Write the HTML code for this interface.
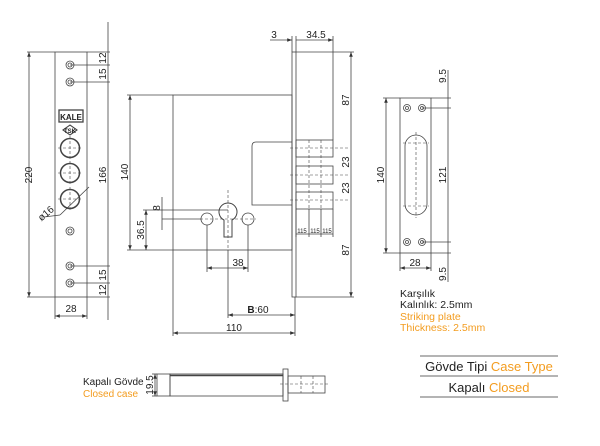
<!DOCTYPE html>
<html><head><meta charset="utf-8"><style>
html,body{margin:0;padding:0;background:#fff}
svg{display:block}
text{font-family:"Liberation Sans",sans-serif;fill:#222}
.o{fill:#f39c1f}
</style></head><body>
<svg width="600" height="446" viewBox="0 0 600 446" xmlns="http://www.w3.org/2000/svg">
<defs>
<marker id="a" viewBox="0 0 8 6" refX="8" refY="3" markerWidth="6" markerHeight="5" orient="auto-start-reverse"><path d="M0,0 L8,3 L0,6z" fill="#333"/></marker>
</defs>
<g stroke="#444" stroke-width="0.8" fill="none">
<rect x="55" y="52" width="32" height="245"/>
<line x1="29" y1="52" x2="29" y2="297" marker-start="url(#a)" marker-end="url(#a)"/>
<line x1="27" y1="52" x2="55" y2="52"/><line x1="27" y1="297" x2="55" y2="297"/>
<line x1="108" y1="22" x2="108" y2="320"/>
<line x1="87" y1="52" x2="110" y2="52"/><line x1="87" y1="297" x2="110" y2="297"/>
<line x1="70" y1="65" x2="110" y2="65"/><line x1="70" y1="82" x2="110" y2="82"/>
<line x1="70" y1="266" x2="110" y2="266"/><line x1="70" y1="283" x2="110" y2="283"/>
<circle cx="70" cy="65" r="4"/><circle cx="70" cy="65" r="2"/>
<circle cx="70" cy="82" r="4"/><circle cx="70" cy="82" r="2"/>
<circle cx="70" cy="231" r="4"/><circle cx="70" cy="231" r="2"/>
<circle cx="70" cy="266" r="4"/><circle cx="70" cy="266" r="2"/>
<circle cx="70" cy="283" r="4"/><circle cx="70" cy="283" r="2"/>
<circle cx="70" cy="148" r="9.5" stroke-width="1.5"/>
<circle cx="70" cy="173" r="9.5" stroke-width="1.5"/>
<circle cx="70" cy="199" r="9.5" stroke-width="1.5"/>
<g stroke-dasharray="3,2" stroke-width="0.6">
<line x1="58" y1="148" x2="82" y2="148"/><line x1="70" y1="136" x2="70" y2="160"/>
<line x1="58" y1="173" x2="82" y2="173"/><line x1="70" y1="161" x2="70" y2="185"/>
<line x1="58" y1="199" x2="82" y2="199"/><line x1="70" y1="187" x2="70" y2="211"/>
</g>
<line x1="60" y1="215" x2="89" y2="187"/>
<line x1="44" y1="217" x2="60" y2="215"/>
<rect x="59" y="110" width="24" height="12" stroke-width="1.3"/>
<path d="M63,130 L70,125 L77,130 L70,135z" stroke-width="1.1"/>
<line x1="55" y1="316" x2="87" y2="316" marker-start="url(#a)" marker-end="url(#a)"/>
<line x1="55" y1="297" x2="55" y2="319"/><line x1="87" y1="297" x2="87" y2="319"/>

<rect x="173" y="95" width="119" height="155"/>
<rect x="292" y="52" width="4" height="245"/>
<line x1="296" y1="52" x2="333" y2="52"/><line x1="296" y1="297" x2="333" y2="297"/>
<path d="M292,142 L256,142 Q252,142 252,146 L252,205 L292,205"/>
<rect x="296" y="140" width="37" height="17"/>
<rect x="296" y="166" width="37" height="18"/>
<rect x="296" y="192" width="37" height="17"/>
<g stroke-dasharray="3,2" stroke-width="0.6">
<line x1="309" y1="140" x2="309" y2="209"/><line x1="321" y1="140" x2="321" y2="209"/>
<line x1="290" y1="148" x2="350" y2="148"/><line x1="290" y1="175" x2="350" y2="175"/><line x1="290" y1="200" x2="350" y2="200"/>
<line x1="228" y1="190" x2="228" y2="250"/>
<line x1="200" y1="219" x2="256" y2="219"/>
</g>
<line x1="296" y1="209" x2="296" y2="237"/><line x1="309" y1="209" x2="309" y2="237"/><line x1="321" y1="209" x2="321" y2="237"/><line x1="333" y1="209" x2="333" y2="237"/>
<line x1="296" y1="234" x2="333" y2="234"/>
<path d="M224,237 L224,220 A9,9 0 1 1 232,220 L232,237 Z" stroke-width="1"/>
<circle cx="207" cy="219" r="6"/><circle cx="248" cy="219" r="6"/>
<line x1="296" y1="40" x2="333" y2="40" marker-end="url(#a)"/>
<line x1="270" y1="40" x2="292" y2="40" marker-end="url(#a)"/>
<line x1="333" y1="36" x2="333" y2="140"/>
<line x1="292" y1="36" x2="292" y2="52"/><line x1="296" y1="36" x2="296" y2="52"/>
<line x1="351" y1="52" x2="351" y2="297" marker-start="url(#a)" marker-end="url(#a)"/>
<line x1="333" y1="52" x2="354" y2="52"/>
<line x1="333" y1="297" x2="354" y2="297"/>
<line x1="130" y1="95" x2="130" y2="250" marker-start="url(#a)" marker-end="url(#a)"/>
<line x1="127" y1="95" x2="173" y2="95"/><line x1="127" y1="250" x2="173" y2="250"/>
<line x1="146" y1="210" x2="146" y2="250" marker-start="url(#a)" marker-end="url(#a)"/>
<line x1="143" y1="210" x2="228" y2="210"/>
<line x1="162" y1="197" x2="162" y2="230"/>
<line x1="162" y1="219" x2="201" y2="219"/>
<line x1="207" y1="225" x2="207" y2="272"/><line x1="248" y1="225" x2="248" y2="272"/>
<line x1="207" y1="268" x2="248" y2="268" marker-start="url(#a)" marker-end="url(#a)"/>
<line x1="228" y1="250" x2="228" y2="318"/>
<line x1="228" y1="315" x2="295" y2="315" marker-start="url(#a)" marker-end="url(#a)"/>
<line x1="295" y1="297" x2="295" y2="336"/>
<line x1="173" y1="250" x2="173" y2="336"/>
<line x1="173" y1="333" x2="295" y2="333" marker-start="url(#a)" marker-end="url(#a)"/>

<rect x="400" y="98" width="31" height="155"/>
<rect x="405" y="135" width="22" height="80" rx="11"/>
<g stroke-dasharray="3,2" stroke-width="0.6">
<line x1="416" y1="132" x2="416" y2="218"/>
<line x1="403" y1="143" x2="429" y2="143"/><line x1="403" y1="206" x2="429" y2="206"/>
</g>
<circle cx="407" cy="108" r="3.5"/><circle cx="407" cy="108" r="1.5"/>
<circle cx="422" cy="108" r="3.5"/><circle cx="422" cy="108" r="1.5"/>
<circle cx="407" cy="242" r="3.5"/><circle cx="407" cy="242" r="1.5"/>
<circle cx="422" cy="242" r="3.5"/><circle cx="422" cy="242" r="1.5"/>
<line x1="386" y1="98" x2="386" y2="253" marker-start="url(#a)" marker-end="url(#a)"/>
<line x1="383" y1="98" x2="400" y2="98"/><line x1="383" y1="253" x2="400" y2="253"/>
<line x1="448" y1="70" x2="448" y2="282"/>
<line x1="431" y1="98" x2="451" y2="98"/><line x1="422" y1="108" x2="451" y2="108"/>
<line x1="431" y1="253" x2="451" y2="253"/><line x1="422" y1="242" x2="451" y2="242"/>
<line x1="400" y1="268" x2="431" y2="268" marker-start="url(#a)" marker-end="url(#a)"/>
<line x1="400" y1="253" x2="400" y2="271"/><line x1="431" y1="253" x2="431" y2="271"/>

<rect x="157" y="374" width="13" height="22"/>
<rect x="170" y="374" width="113" height="22"/>
<line x1="170" y1="375.5" x2="283" y2="375.5" stroke-width="1.5"/>
<rect x="283" y="369" width="5" height="32"/>
<rect x="288" y="376" width="37" height="17"/>
<g stroke-dasharray="3,2" stroke-width="0.6">
<line x1="280" y1="384" x2="330" y2="384"/>
<line x1="301" y1="376" x2="301" y2="393"/><line x1="313" y1="376" x2="313" y2="393"/>
</g>
<line x1="155" y1="374" x2="155" y2="396" marker-start="url(#a)" marker-end="url(#a)"/>
<line x1="152" y1="374" x2="157" y2="374"/><line x1="152" y1="396" x2="157" y2="396"/>

<g stroke="#888" stroke-width="1.2">
<line x1="420" y1="356" x2="558" y2="356"/>
<line x1="420" y1="376" x2="558" y2="376"/>
<line x1="420" y1="397" x2="558" y2="397"/>
</g>
</g>

<g font-size="10">
<text x="32" y="175" transform="rotate(-90 32 175)" text-anchor="middle">220</text>
<text x="106" y="175" transform="rotate(-90 106 175)" text-anchor="middle">166</text>
<text x="106" y="58" transform="rotate(-90 106 58)" text-anchor="middle">12</text>
<text x="106" y="74" transform="rotate(-90 106 74)" text-anchor="middle">15</text>
<text x="106" y="275" transform="rotate(-90 106 275)" text-anchor="middle">15</text>
<text x="106" y="290" transform="rotate(-90 106 290)" text-anchor="middle">12</text>
<text x="48" y="216" transform="rotate(-40 48 216)" text-anchor="middle">ø16</text>
<text x="71" y="312" text-anchor="middle">28</text>
<text x="71" y="120" text-anchor="middle" font-size="8" font-weight="bold">KALE</text>
<text x="70" y="133" text-anchor="middle" font-size="6" font-weight="bold">TSK</text>

<text x="128" y="172" transform="rotate(-90 128 172)" text-anchor="middle">140</text>
<text x="144" y="230" transform="rotate(-90 144 230)" text-anchor="middle">36.5</text>
<text x="160" y="208" transform="rotate(-90 160 208)" text-anchor="middle">8</text>
<text x="274" y="38" text-anchor="middle">3</text>
<text x="316" y="38" text-anchor="middle">34.5</text>
<text x="349" y="100" transform="rotate(-90 349 100)" text-anchor="middle">87</text>
<text x="349" y="250" transform="rotate(-90 349 250)" text-anchor="middle">87</text>
<text x="349" y="162" transform="rotate(-90 349 162)" text-anchor="middle">23</text>
<text x="349" y="188" transform="rotate(-90 349 188)" text-anchor="middle">23</text>
<text x="302" y="233" text-anchor="middle" font-size="6">115</text>
<text x="315" y="233" text-anchor="middle" font-size="6">115</text>
<text x="327" y="233" text-anchor="middle" font-size="6">115</text>
<text x="238" y="266" text-anchor="middle">38</text>
<text x="258" y="313" text-anchor="middle"><tspan font-weight="bold">B</tspan>:60</text>
<text x="234" y="331" text-anchor="middle">110</text>

<text x="384" y="175" transform="rotate(-90 384 175)" text-anchor="middle">140</text>
<text x="446" y="175" transform="rotate(-90 446 175)" text-anchor="middle">121</text>
<text x="446" y="76" transform="rotate(-90 446 76)" text-anchor="middle">9.5</text>
<text x="446" y="274" transform="rotate(-90 446 274)" text-anchor="middle">9.5</text>
<text x="415" y="266" text-anchor="middle">28</text>
<text x="153" y="385" transform="rotate(-90 153 385)" text-anchor="middle">19.5</text>
</g>
<g font-size="10.5">
<text x="400" y="297">Karşılık</text>
<text x="400" y="308">Kalınlık: 2.5mm</text>
<text x="400" y="320" class="o">Striking plate</text>
<text x="400" y="331" class="o">Thickness: 2.5mm</text>
</g>
<g font-size="10">
<text x="83" y="385">Kapalı Gövde</text>
<text x="83" y="397" class="o">Closed case</text>
</g>
<g font-size="13" text-anchor="middle">
<text x="489" y="371">Gövde Tipi <tspan class="o">Case Type</tspan></text>
<text x="489" y="392">Kapalı <tspan class="o">Closed</tspan></text>
</g>
</svg>
</body></html>
